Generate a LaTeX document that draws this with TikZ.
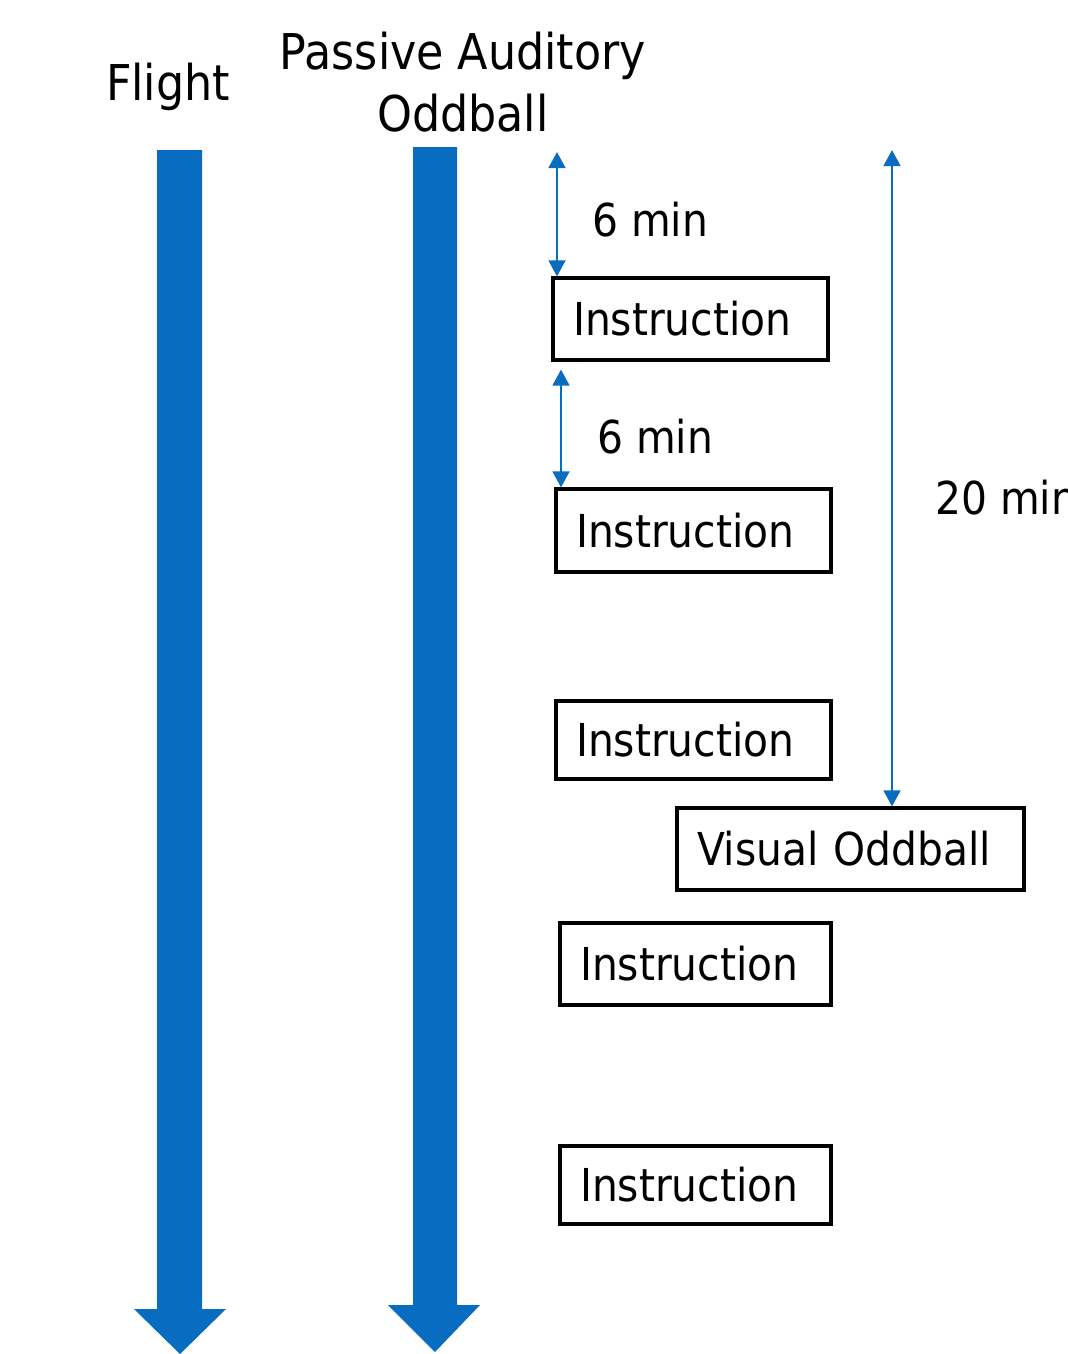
\documentclass[tikz,border=0pt]{standalone}
\usepackage{fontspec}
\setmainfont{DejaVu Sans Condensed}
\usetikzlibrary{arrows.meta}
\definecolor{flowblue}{RGB}{8,108,192}
\begin{document}
\begin{tikzpicture}[x=0.75pt,y=-0.75pt,
  bigarrow/.style={fill=flowblue,draw=none},
  stepbox/.style={draw=black,line width=2.4pt,inner xsep=15pt,inner ysep=0pt,
    align=left,font=\fontsize{34}{40}\selectfont},
  dim/.style={draw=flowblue,line width=1.9pt,
    {Triangle[width=12.5pt,length=12pt]}-{Triangle[width=12.5pt,length=12pt]}},
  title/.style={font=\fontsize{37}{46.5}\selectfont,inner sep=0pt,align=center},
  lbl/.style={font=\fontsize{34}{40}\selectfont,inner sep=0pt,anchor=base west}]

\fill[white] (0,0) rectangle (1068,1354);
\useasboundingbox (0,0) rectangle (1068,1354);

% column headings
\node[title,anchor=base] (flight) at (168,100) {Flight};
\node[title] (pao) at (463,82.5) {Passive Auditory\\Oddball};

% timeline arrows
\fill[bigarrow] (157,150) -- (202,150) -- (202,1309) -- (226,1309)
  -- (180,1354) -- (134,1309) -- (157,1309) -- cycle;
\fill[bigarrow] (413,147) -- (457,147) -- (457,1305) -- (480,1305)
  -- (435,1352) -- (388,1305) -- (413,1305) -- cycle;

% task blocks
\node[stepbox,text width=176.25pt,minimum height=61.5pt]  (i1) at (690.5,319)  {Instruction};
\node[stepbox,text width=176.25pt,minimum height=62.25pt] (i2) at (693.5,530.5){Instruction};
\node[stepbox,text width=176.25pt,minimum height=58.5pt]  (i3) at (693.5,740)  {Instruction};
\node[stepbox,text width=230.25pt,minimum height=61.5pt]  (vo) at (850.5,849)  {Visual Oddball};
\node[stepbox,text width=173.25pt,minimum height=61.5pt]  (i4) at (695.5,964)  {Instruction};
\node[stepbox,text width=173.25pt,minimum height=58.5pt]  (i5) at (695.5,1185) {Instruction};

% durations
\coordinate (d1top) at (557,152);
\coordinate (d2x) at (561,0);
\coordinate (d3top) at (892,150);
\draw[dim] (d1top) -- (d1top |- i1.north);
\draw[dim] ([yshift=-6pt]d2x |- i1.south) -- (d2x |- i2.north);
\draw[dim] (d3top) -- (d3top |- vo.north);

\node[lbl] (m1) at (592,236) {6 min};
\node[lbl] (m2) at (597,453) {6 min};
\node[lbl] (m3) at (935,514) {20 min};
\end{tikzpicture}
\end{document}
